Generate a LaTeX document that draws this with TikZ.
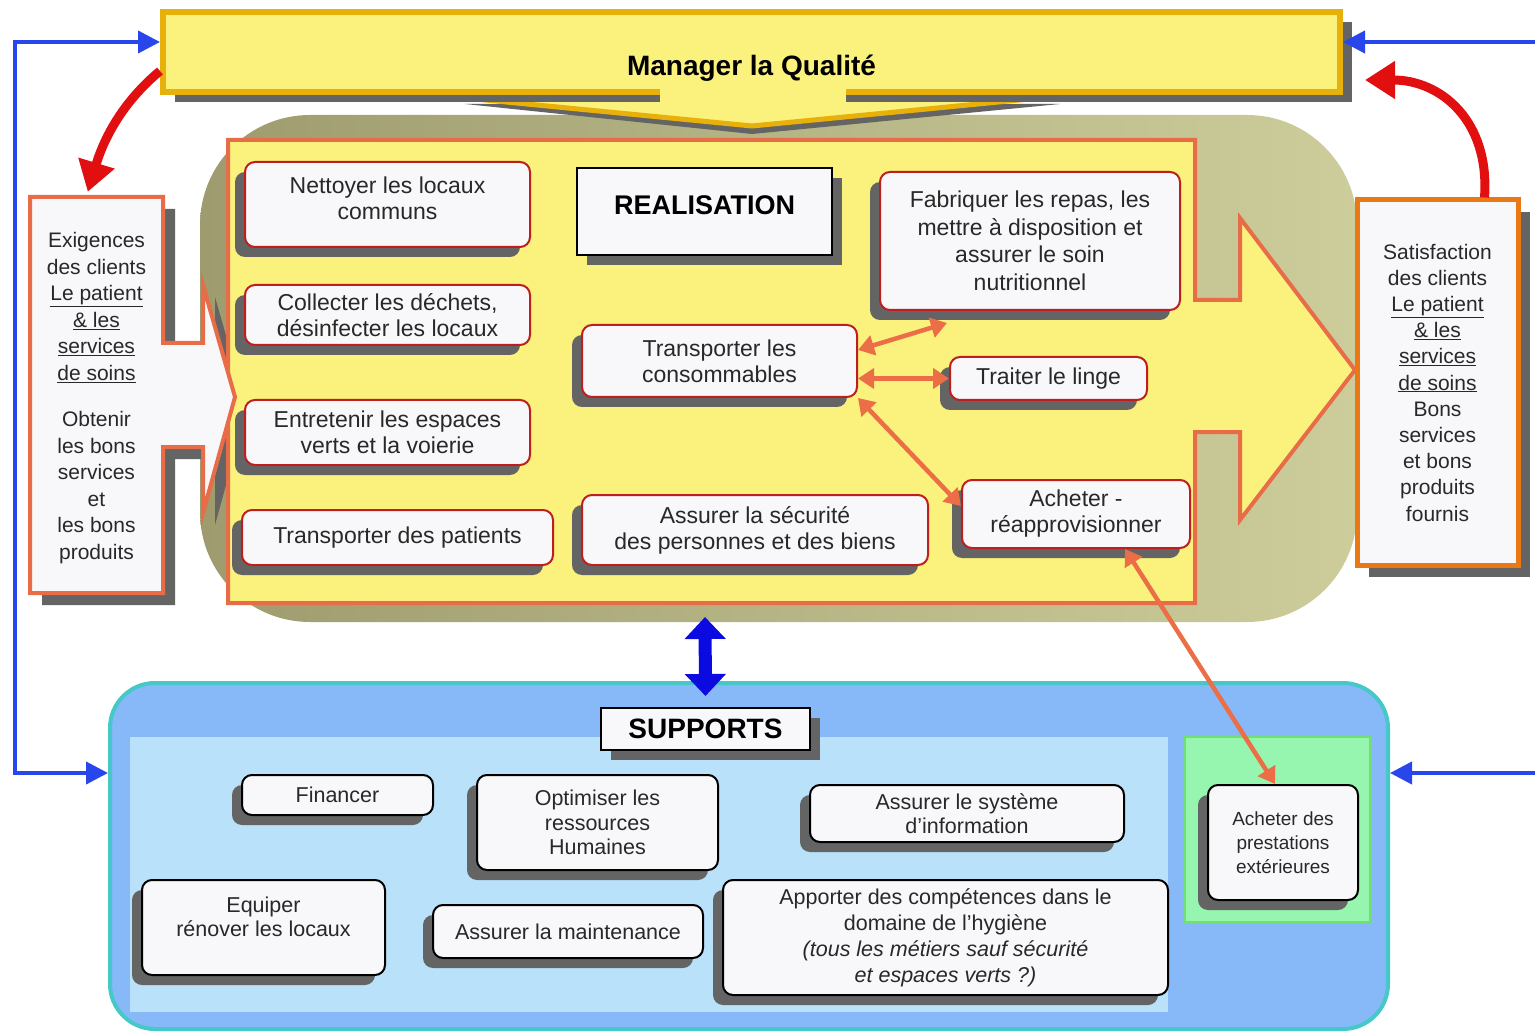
\documentclass[tikz,border=0pt]{standalone}
\usepackage{fontspec}
\setmainfont{Liberation Sans}
\usetikzlibrary{arrows.meta,shadows}
\definecolor{barfill}{RGB}{250,242,125}
\definecolor{barline}{RGB}{232,176,10}
\definecolor{oliveA}{RGB}{158,156,110}
\definecolor{oliveB}{RGB}{205,205,155}
\definecolor{realline}{RGB}{232,108,72}
\definecolor{boxred}{RGB}{190,30,30}
\definecolor{linkorange}{RGB}{236,110,70}
\definecolor{satorange}{RGB}{234,120,20}
\definecolor{shadowgray}{RGB}{100,100,100}
\definecolor{boxwhite}{RGB}{248,248,250}
\definecolor{retourred}{RGB}{225,15,15}
\definecolor{linkblue}{RGB}{40,70,235}
\definecolor{deepblue}{RGB}{10,10,225}
\definecolor{suppblue}{RGB}{135,185,248}
\definecolor{supplight}{RGB}{185,225,250}
\definecolor{suppteal}{RGB}{70,200,200}
\definecolor{greenfill}{RGB}{150,245,175}
\definecolor{greenline}{RGB}{110,225,110}
\definecolor{textgray}{RGB}{40,40,40}

\tikzset{
  realbox/.style={draw=boxred, line width=2pt, fill=boxwhite, rounded corners=10pt,
    align=center, inner sep=0pt, text=textgray,
    drop shadow={shadow xshift=-10pt, shadow yshift=-10pt, fill=shadowgray, opacity=1},
    font=\fontsize{23}{26}\selectfont},
  suppbox/.style={realbox, draw=black, font=\fontsize{21.5}{24.5}\selectfont},
  titlebox/.style={draw=black, line width=2pt, fill=boxwhite, inner sep=0pt, text=black,
    drop shadow={shadow xshift=10pt, shadow yshift=-10pt, fill=shadowgray, opacity=1},
    font=\bfseries\fontsize{27}{30}\selectfont},
  sidetext/.style={align=center, inner sep=0pt, text=textgray, font=\fontsize{21}{26.5}\selectfont},
  link/.style={draw=linkorange, line width=4.5pt, >={Triangle[length=16pt,width=20pt]}, <->},
  retour/.style={draw=retourred, line width=9pt, -{Triangle[length=30pt,width=36pt]}},
  feedback/.style={draw=linkblue, line width=4pt, >={Triangle[length=22pt,width=22pt]}},
  bigblue/.style={draw=deepblue, line width=13pt, >={Triangle[length=22pt,width=40pt]}, <->}
}

\newcommand{\contourexig}{(30,197) -- (163,197) -- (163,343) -- (203,343) -- (203,285) -- (235,397)
  -- (203,513) -- (203,447) -- (163,447) -- (163,593) -- (30,593) -- cycle}

\begin{document}
\begin{tikzpicture}[x=1pt,y=-1pt]
\useasboundingbox (0,0) rectangle (1535,1032);
\fill[white] (0,0) rectangle (1535,1032);

% realisation
\shade[left color=oliveA, right color=oliveB, rounded corners=110pt] (200,115) rectangle (1357,622);
\fill[shadowgray, shift={(12,12)}] \contourexig;
\draw[draw=realline, fill=barfill, line width=4pt] (228,140) -- (1195,140) -- (1195,300) -- (1240,300)
  -- (1240,218) -- (1355,370) -- (1240,520) -- (1240,432) -- (1195,432) -- (1195,603) -- (228,603) -- cycle;
\draw[draw=realline, fill=boxwhite, line width=4pt] \contourexig;
\node[sidetext, minimum width=133pt, minimum height=396pt] (exigences) at (96.5,398)
  {Exigences\\des clients\\\underline{Le patient}\\\underline{\& les}\\\underline{services}\\\underline{de soins}\\[20pt]Obtenir\\les bons\\services\\et\\les bons\\produits};
\node[sidetext, draw=satorange, line width=5pt, fill=boxwhite, minimum width=161pt, minimum height=365pt,
  font=\fontsize{21}{26.2}\selectfont,
  drop shadow={shadow xshift=12pt, shadow yshift=-12pt, fill=shadowgray, opacity=1}] (satisfaction) at (1437.5,382.5)
  {Satisfaction\\des clients\\\underline{Le patient}\\\underline{\& les}\\\underline{services}\\\underline{de soins}\\Bons\\services\\et bons\\produits\\fournis};

% manager
\fill[shadowgray] (465,104) -- (752,134) -- (1060,104) -- cycle;
\draw[draw=barline, fill=barfill, line width=5pt] (455,97) -- (752,126) -- (1050,97) -- cycle;
\node[draw=barline, fill=barfill, line width=6pt, minimum width=1177pt, minimum height=80pt, text height=52pt,
  drop shadow={shadow xshift=12pt, shadow yshift=-10pt, fill=shadowgray, opacity=1},
  font=\bfseries\fontsize{28}{30}\selectfont] (manager) at (751.5,52) {Manager la Qualité};
\fill[barfill] (660,86) rectangle (846,105);

\node[realbox, minimum width=285pt, minimum height=85pt, text depth=12pt] (nettoyer) at (387.5,204.5) {Nettoyer les locaux\\communs};
\node[realbox, minimum width=285pt, minimum height=60pt] (collecter) at (387.5,315) {Collecter les déchets,\\désinfecter les locaux};
\node[realbox, minimum width=285pt, minimum height=65pt] (entretenir) at (387.5,432.5) {Entretenir les espaces\\verts et la voierie};
\node[realbox, minimum width=311pt, minimum height=55pt] (transpPat) at (397.5,537.5) {Transporter des patients};
\node[titlebox, minimum width=255pt, minimum height=87pt, text depth=13pt] (realisation) at (704.5,211.5) {REALISATION};
\node[realbox, minimum width=275pt, minimum height=72pt] (transpCons) at (719.5,361) {Transporter les\\consommables};
\node[realbox, minimum width=300pt, minimum height=138pt, font=\fontsize{23}{27.5}\selectfont] (fabriquer) at (1030,241)
  {Fabriquer les repas, les\\mettre à disposition et\\assurer le soin\\nutritionnel};
\node[realbox, minimum width=197pt, minimum height=43pt] (linge) at (1048.5,378.5) {Traiter le linge};
\node[realbox, minimum width=346pt, minimum height=70pt] (securite) at (755,530) {Assurer la sécurité\\des personnes et des biens};
\node[realbox, minimum width=228pt, minimum height=68pt] (acheter) at (1076,514) {Acheter -\\réapprovisionner};

% supports
\node[draw=suppteal, fill=suppblue, line width=4pt, rounded corners=45pt, minimum width=1278pt, minimum height=346pt]
  (supportsframe) at (749,856) {};
\fill[supplight] (130,737) rectangle (1168,1012);
\draw[draw=greenline, fill=greenfill, line width=2pt] (1185,737) rectangle (1370,922);

\node[titlebox, minimum width=209pt, minimum height=42pt, font=\bfseries\fontsize{28}{30}\selectfont] (supports) at (705.5,729) {SUPPORTS};
\node[suppbox, minimum width=191pt, minimum height=40pt] (financer) at (337.5,795) {Financer};
\node[suppbox, minimum width=241pt, minimum height=95pt] (optimiser) at (597.5,822.5) {Optimiser les\\ressources\\Humaines};
\node[suppbox, minimum width=314pt, minimum height=57pt] (sysinfo) at (967,813.5) {Assurer le système\\d'information};
\node[suppbox, minimum width=243pt, minimum height=95pt, text depth=22pt] (equiper) at (263.5,927.5) {Equiper\\rénover les locaux};
\node[suppbox, minimum width=270pt, minimum height=53pt] (maintenance) at (568,931.5) {Assurer la maintenance};
\node[suppbox, minimum width=445pt, minimum height=115pt, font=\fontsize{21.5}{26}\selectfont] (hygiene) at (945.5,937.5)
  {Apporter des compétences dans le\\domaine de l'hygiène\\\textit{(tous les métiers sauf sécurité}\\\textit{et espaces verts ?)}};
\node[suppbox, minimum width=150pt, minimum height=115pt, font=\fontsize{19}{24}\selectfont] (prestations) at (1283,842.5)
  {Acheter des\\prestations\\extérieures};

% liens
\draw[link] ([yshift=11pt]transpCons.east) -- ([xshift=68pt,yshift=-12pt]fabriquer.south west);
\draw[link] (transpCons.east |- linge.west) -- (linge.west);
\draw[link] (transpCons.south east) -- ([yshift=8pt]acheter.west);
\draw[link] ([xshift=49pt]acheter.south) -- ([xshift=-8pt]prestations.north);

\draw[retour] ([yshift=24pt]manager.south west) .. controls (125,100) and (105,135) .. ([xshift=58pt,yshift=8pt]exigences.north west);
\draw[retour] ([xshift=47pt]satisfaction.north) .. controls (1490,120) and (1440,80) .. ([xshift=22pt,yshift=-28pt]manager.east);

\coordinate (coinHaut) at (15,42);
\coordinate (coinBas) at (15,773);
\coordinate (bordHaut) at (1535,42);
\coordinate (bordBas) at (1535,773);
\coordinate (realBas) at (705,617);
\draw[feedback,<->] (manager.west |- coinHaut) -- (coinHaut) -- (coinBas) -- (supportsframe.west |- coinBas);
\draw[feedback,->] (bordHaut) -- (manager.east |- bordHaut);
\draw[feedback,->] (bordBas) -- (supportsframe.east |- bordBas);
\draw[bigblue] (realBas) -- ([yshift=11pt]supports.north);
\end{tikzpicture}
\end{document}
